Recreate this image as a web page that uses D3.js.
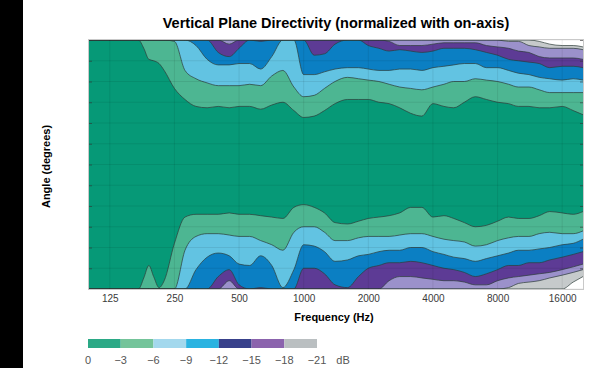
<!DOCTYPE html>
<html>
<head>
<meta charset="utf-8">
<script src="https://cdn.jsdelivr.net/npm/d3@7"></script>
<style>
  html, body { margin: 0; padding: 0; background: white; }
  svg { display: block; }
</style>
</head>
<body>
<div id="chart"></div>
<script>
// sample frequencies (Hz)
const freqs = [100, 112, 125, 140, 160, 170, 180, 190, 200, 212,
  224, 250, 280, 315, 355, 400, 450, 500, 560, 630,
  710, 800, 900, 1000, 1120, 1250, 1400, 1600, 1800, 2000,
  2240, 2500, 2800, 3150, 3550, 4000, 4500, 5000, 5600, 6300,
  7100, 8000, 9000, 10000, 11200, 12500, 14000, 16000, 18000, 20000];

const xTicks = [125, 250, 500, 1000, 2000, 4000, 8000, 16000];
const angleTicks = [-90, -75, -60, -45, -30, -15, 0, 15, 30, 45, 60, 75, 90];
const levels = [0, -3, -6, -9, -12, -15, -18, -21];

// angle (deg) where the response falls below each level, upper half
const up3 = [90, 90, 90, 90, 90, 90, 84, 76, 75, 73,
  68, 55, 47, 42, 41, 42, 41, 42, 42, 40,
  43, 45, 39, 34, 35, 39, 44, 47, 47, 47,
  45, 44, 41, 37, 35, 44, 42, 41, 45, 49,
  47, 45, 44, 42, 42, 41, 41, 42, 39, 36];
const up6 = [90, 90, 90, 90, 90, 90, 90, 90, 90, 90,
  90, 89, 68, 62, 59, 57, 57, 57, 58, 57,
  64, 68, 56, 49, 50, 55, 60, 63, 62, 61,
  60, 58, 56, 55, 54, 56, 58, 60, 60, 62,
  61, 60, 58, 56, 56, 54, 52, 52, 52, 52];
const up9 = [90, 90, 90, 90, 90, 90, 90, 90, 90, 90,
  90, 90, 90, 86, 76, 72, 72, 73, 73, 69,
  78, 90, 90, 65, 65, 67, 69, 70, 70, 69,
  68, 68, 69, 69, 68, 70, 71, 72, 73, 73,
  70, 70, 68, 66, 65, 63, 62, 61, 62, 61];
const up12 = [90, 90, 90, 90, 90, 90, 90, 90, 90, 90,
  90, 90, 90, 90, 90, 81, 78, 84, 90, 89,
  90, 90, 90, 90, 79, 80, 87, 90, 90, 86,
  84, 82, 83, 82, 81, 82, 84, 84, 84, 83,
  81, 79, 76, 75, 74, 73, 70, 71, 71, 70];
const up15 = [90, 90, 90, 90, 90, 90, 90, 90, 90, 90,
  90, 90, 90, 90, 90, 90, 87, 90, 90, 90,
  90, 90, 90, 90, 90, 90, 90, 90, 90, 90,
  90, 89, 86, 86, 86, 87, 88, 88, 88, 88,
  86, 85, 84, 82, 81, 78, 77, 77, 77, 76];
const up18 = [90, 90, 90, 90, 90, 90, 90, 90, 90, 90,
  90, 90, 90, 90, 90, 90, 90, 90, 90, 90,
  90, 90, 90, 90, 90, 90, 90, 90, 90, 90,
  90, 90, 90, 90, 90, 90, 90, 90, 90, 90,
  90, 90, 89, 89, 86, 85, 84, 84, 84, 83];
const up21 = [90, 90, 90, 90, 90, 90, 90, 90, 90, 90,
  90, 90, 90, 90, 90, 90, 90, 90, 90, 90,
  90, 90, 90, 90, 90, 90, 90, 90, 90, 90,
  90, 90, 90, 90, 90, 90, 90, 90, 90, 90,
  90, 90, 90, 90, 90, 89, 87, 86, 86, 85];

// same, lower half
const lo3 = [-90, -90, -90, -90, -90, -90, -82, -73, -81, -89,
  -84, -57, -38, -36, -36, -36, -35, -36, -36, -37,
  -38, -39, -31, -29, -31, -35, -42, -43, -41, -39,
  -38, -37, -35, -31, -31, -38, -37, -39, -42, -45,
  -44, -41, -38, -39, -39, -37, -34, -35, -36, -34];
const lo6 = [-90, -90, -90, -90, -90, -90, -90, -90, -90, -90,
  -90, -90, -62, -52, -50, -50, -51, -52, -52, -55,
  -58, -62, -49, -45, -45, -49, -55, -55, -53, -52,
  -52, -52, -51, -50, -50, -52, -54, -55, -56, -59,
  -58, -55, -53, -52, -52, -50, -49, -50, -50, -48];
const lo9 = [-90, -90, -90, -90, -90, -90, -90, -90, -90, -90,
  -90, -90, -90, -76, -67, -64, -66, -72, -73, -66,
  -73, -89, -76, -58, -59, -63, -70, -69, -66, -65,
  -63, -62, -62, -60, -60, -63, -65, -67, -68, -70,
  -68, -66, -64, -62, -62, -61, -60, -58, -57, -54];
const lo12 = [-90, -90, -90, -90, -90, -90, -90, -90, -90, -90,
  -90, -90, -90, -90, -90, -81, -76, -87, -90, -89,
  -90, -90, -90, -75, -75, -79, -87, -89, -81, -75,
  -73, -71, -71, -70, -71, -73, -75, -76, -78, -81,
  -79, -76, -73, -73, -71, -71, -69, -67, -65, -63];
const lo15 = [-90, -90, -90, -90, -90, -90, -90, -90, -90, -90,
  -90, -90, -90, -90, -90, -90, -84, -90, -90, -90,
  -90, -90, -90, -90, -90, -90, -90, -90, -90, -90,
  -90, -84, -81, -81, -82, -83, -84, -84, -85, -87,
  -87, -84, -82, -81, -80, -79, -78, -76, -74, -72];
const lo18 = [-90, -90, -90, -90, -90, -90, -90, -90, -90, -90,
  -90, -90, -90, -90, -90, -90, -90, -90, -90, -90,
  -90, -90, -90, -90, -90, -90, -90, -90, -90, -90,
  -90, -90, -90, -90, -90, -90, -90, -90, -90, -90,
  -90, -90, -89, -86, -85, -84, -82, -80, -78, -76];
const lo21 = [-90, -90, -90, -90, -90, -90, -90, -90, -90, -90,
  -90, -90, -90, -90, -90, -90, -90, -90, -90, -90,
  -90, -90, -90, -90, -90, -90, -90, -90, -90, -90,
  -90, -90, -90, -90, -90, -90, -90, -90, -90, -90,
  -90, -90, -90, -90, -90, -90, -90, -90, -85, -81];

const upper = [up3, up6, up9, up12, up15, up18, up21];
const lower = [lo3, lo6, lo9, lo12, lo15, lo18, lo21];

const bandColors = ["#069977", "#4db692", "#62c3e2", "#0b7fc3", "#5d3b95", "#9b91cb", "#c6cacb", "#ffffff"];
const legendColors = ["#2ba986", "#74c49a", "#a3d8ed", "#2ab3e1", "#38418b", "#8b63ad", "#babfc1"];

const font = "'Liberation Sans', Arial, sans-serif";

const x = d3.scaleLog().domain([100, 20000]).range([89, 583]);
const y = d3.scaleLinear().domain([-90, 90]).range([289, 40]);

const svg = d3.select("#chart")
  .append("svg")
    .attr("width", 608)
    .attr("height", 368)
    .style("background", "white")

svg.append("rect")
  .attr("x", 0)
  .attr("y", 0)
  .attr("width", 23)
  .attr("height", 368)
  .attr("fill", "black")

svg.append("clipPath")
  .attr("id", "plotClip")
  .append("rect")
    .attr("x", x(100))
    .attr("y", y(90))
    .attr("width", x(20000) - x(100))
    .attr("height", y(-90) - y(90))

const plot = svg.append("g").attr("clip-path", "url(#plotClip)")

plot.append("rect")
  .attr("x", x(100))
  .attr("y", y(90))
  .attr("width", x(20000) - x(100))
  .attr("height", y(-90) - y(90))
  .attr("fill", bandColors[0])

const drawHalf = (sets, edge) => {
  sets.forEach((vals, i) => {
    const rows = freqs.map((f, j) => ({f: f, a: vals[j]}));
    const area = d3.area()
      .curve(d3.curveMonotoneX)
      .x(d => x(d.f))
      .y0(y(edge))
      .y1(d => y(d.a));
    const line = d3.line()
      .curve(d3.curveMonotoneX)
      .x(d => x(d.f))
      .y(d => y(d.a));
    plot.append("path")
      .datum(rows)
      .attr("fill", bandColors[i + 1])
      .attr("d", area)
    plot.append("path")
      .datum(rows)
      .attr("fill", "none")
      .attr("stroke", "#2e3d3b")
      .attr("stroke-opacity", 0.8)
      .attr("stroke-width", 0.9)
      .attr("d", line)
  });
}

drawHalf(upper, 90)
drawHalf(lower, -90)

// grid
plot.selectAll(".vgrid")
  .data(xTicks)
  .join("line")
    .attr("x1", d => x(d))
    .attr("x2", d => x(d))
    .attr("y1", y(90))
    .attr("y2", y(-90))
    .attr("stroke", "black")
    .attr("stroke-opacity", 0.08)

plot.selectAll(".hgrid")
  .data(angleTicks)
  .join("line")
    .attr("x1", x(100))
    .attr("x2", x(20000))
    .attr("y1", d => y(d))
    .attr("y2", d => y(d))
    .attr("stroke", "black")
    .attr("stroke-opacity", 0.08)

const leftAxis = svg.append("g")
  .attr("transform", `translate(${x(100)},0)`)
  .call(d3.axisLeft(y).tickValues(angleTicks).tickSize(-3).tickFormat(""))
leftAxis.select(".domain").remove()
leftAxis.selectAll("line").attr("stroke", "#333").attr("stroke-opacity", 0.6)

const rightAxis = svg.append("g")
  .attr("transform", `translate(${x(20000)},0)`)
  .call(d3.axisRight(y).tickValues(angleTicks).tickSize(-3).tickFormat(""))
rightAxis.select(".domain").remove()
rightAxis.selectAll("line").attr("stroke", "#333").attr("stroke-opacity", 0.6)

svg.append("rect")
  .attr("x", x(100) - 0.5)
  .attr("y", y(90) - 0.5)
  .attr("width", x(20000) - x(100) + 1)
  .attr("height", y(-90) - y(90) + 1)
  .attr("fill", "none")
  .attr("stroke", "#c9c9c9")

const bottomAxis = svg.append("g")
  .attr("transform", `translate(0,${y(-90)})`)
  .call(d3.axisBottom(x).tickValues(xTicks).tickSize(0).tickPadding(6).tickFormat(d3.format("d")))
bottomAxis.select(".domain").remove()
bottomAxis.selectAll("text")
  .style("font-family", font)
  .style("font-size", "10px")
  .style("fill", "#3a3a3a")

svg.append("text")
  .attr("x", (x(100) + x(20000)) / 2)
  .attr("y", 28)
  .attr("text-anchor", "middle")
  .style("font-family", font)
  .style("font-weight", "bold")
  .style("font-size", "14.5px")
  .text("Vertical Plane Directivity (normalized with on-axis)")

svg.append("text")
  .attr("x", (x(100) + x(20000)) / 2 - 2)
  .attr("y", 321)
  .attr("text-anchor", "middle")
  .style("font-family", font)
  .style("font-weight", "bold")
  .style("font-size", "11px")
  .text("Frequency (Hz)")

svg.append("text")
  .attr("transform", `translate(50,${(y(90) + y(-90)) / 2 + 2}) rotate(-90)`)
  .attr("text-anchor", "middle")
  .style("font-family", font)
  .style("font-weight", "bold")
  .style("font-size", "11px")
  .text("Angle (degrees)")

// legend
const lx = d3.scaleLinear().domain([0, -21]).range([88, 317]);
const legend = svg.append("g")

legend.selectAll("rect")
  .data(legendColors)
  .join("rect")
    .attr("x", (d, i) => lx(levels[i]))
    .attr("y", 339)
    .attr("width", (d, i) => lx(levels[i + 1]) - lx(levels[i]))
    .attr("height", 9)
    .attr("fill", d => d)

legend.selectAll("text")
  .data(levels)
  .join("text")
    .attr("x", d => lx(d))
    .attr("y", 364)
    .attr("text-anchor", "middle")
    .style("font-family", font)
    .style("font-size", "11px")
    .style("fill", "#555")
    .text(d => d === 0 ? "0" : "\u2212" + Math.abs(d))

legend.append("text")
  .attr("x", lx(-21) + 26)
  .attr("y", 364)
  .attr("text-anchor", "middle")
  .style("font-family", font)
  .style("font-size", "11px")
  .style("fill", "#555")
  .text("dB")
</script>
</body>
</html>
